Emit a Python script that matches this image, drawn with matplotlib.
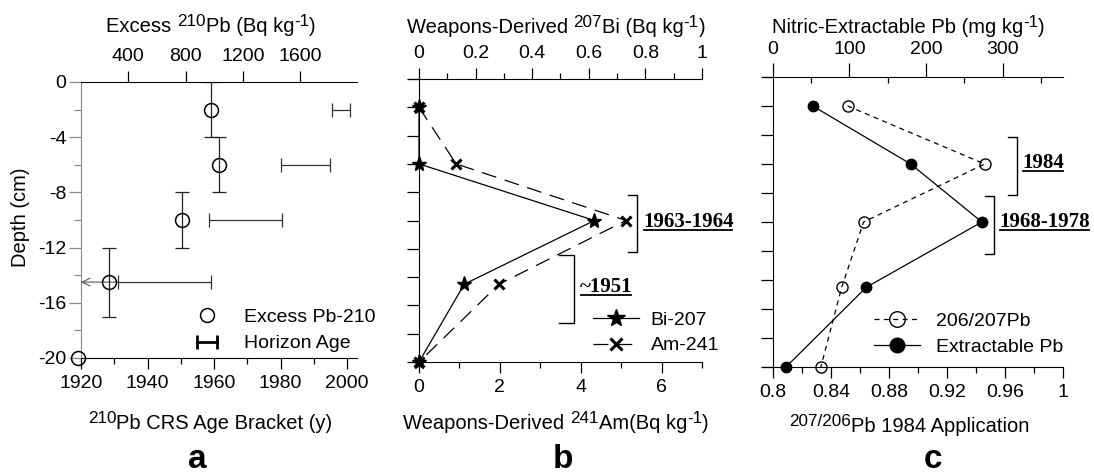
import matplotlib
matplotlib.use('Agg')
import matplotlib.pyplot as plt
from matplotlib.lines import Line2D
from matplotlib.legend_handler import HandlerLine2D
from matplotlib.font_manager import FontProperties
from matplotlib.ticker import MultipleLocator, FixedLocator

plt.rcParams['font.family'] = ['Liberation Sans', 'DejaVu Sans']
plt.rcParams['font.size'] = 14
plt.rcParams['axes.unicode_minus'] = False

######################################################################

# DATA

# panel a : excess 210Pb profile and CRS horizon ages
depth_a = [-2, -6, -10, -14.5, -20]
excess_pb210 = [980, 1035, 775, 265, 50]
depth_err_a = [2, 2, 2, 2.5]
age_depth = [-2, -6, -10, -14.5]
age_lo = [1995.5, 1980, 1958.5, 1931]
age_hi = [2001, 1995, 1980.5, 1959]
age_limit = 1920          # oldest bracket is open ended (arrow)

# panel b : weapons fallout isotopes
depth_b = [-2, -6, -10, -14.5, -20]
bi207 = [0, 0, 0.62, 0.16, 0]
am241 = [0, 0.92, 5.12, 1.98, 0]

# panel c : nitric extractable Pb and isotope ratio
depth_c = [-2, -6, -10, -14.5, -20]
extract_pb = [52, 180, 273, 122, 17]
ratio_pb = [0.8515, 0.946, 0.8625, 0.8474, 0.833]

######################################################################

W, H = 1094, 475
fig = plt.figure(figsize=(W / 100, H / 100), dpi=100)
renderer = fig.canvas.get_renderer()
LABEL_FS = 14.5


def px_axes(left, top, right, bottom):
    return fig.add_axes([left / W, 1 - bottom / H, (right - left) / W, (bottom - top) / H])


def setup(ax, top_ax, ylen=9):
    ax.spines['top'].set_visible(False)
    ax.spines['right'].set_visible(False)
    for s in ['bottom', 'left', 'right']:
        top_ax.spines[s].set_visible(False)
    ax.tick_params(axis='x', which='major', direction='out', length=8, width=0.9, pad=4)
    ax.tick_params(axis='x', which='minor', direction='out', length=4, width=0.9)
    ax.tick_params(axis='y', which='both', direction='out', length=ylen, width=0.9, pad=1.5)
    top_ax.tick_params(axis='x', which='major', direction='out', length=8, width=0.9, pad=4)
    top_ax.tick_params(axis='x', which='minor', direction='out', length=4, width=0.9)
    ax.set_ylim(-20, 0)
    ax.yaxis.set_major_locator(MultipleLocator(2))


def text_width(s, size):
    # advance width incl. spaces, measured against a sentinel glyph
    prop = FontProperties(family=['Liberation Sans', 'DejaVu Sans'], size=size)
    w1 = renderer.get_text_width_height_descent(s + '|', prop, ismath=False)[0]
    w0 = renderer.get_text_width_height_descent('|', prop, ismath=False)[0]
    return w1 - w0


def rich_label(xc, ybase, parts, fs=LABEL_FS):
    # parts: (text, superscript?) ; superscripts are nearly full size, as in the original
    sizes = [fs * 0.85 if sup else fs for _, sup in parts]
    widths = [text_width(s, sz) for (s, _), sz in zip(parts, sizes)]
    x = xc - sum(widths) / 2
    for (s, sup), sz, w in zip(parts, sizes, widths):
        yb = ybase - (0.30 * fs * 100 / 72 if sup else 0)
        fig.text(x / W, 1 - yb / H, s, fontsize=sz, ha='left', va='baseline')
        x += w


underlines = []


def bracket(ax, x, xl, y0, y1, label, tx, ty):
    ax.plot([xl, x, x, xl], [y0, y0, y1, y1], color='k', lw=1, clip_on=False)
    t = ax.text(tx, ty, label, family=['Liberation Serif', 'DejaVu Serif'], weight='bold',
                fontsize=15, ha='left', va='center', clip_on=False)
    underlines.append(t)


# ---------------- panel a ----------------
axa = px_axes(81, 82, 357, 358)
axa_t = axa.twiny()
setup(axa, axa_t)
axa.set_xlim(1920, 2003)
axa.xaxis.set_major_locator(MultipleLocator(20))
axa.xaxis.set_minor_locator(MultipleLocator(10))
axa.yaxis.set_major_locator(FixedLocator([0, -4, -8, -12, -16, -20]))
axa.yaxis.set_minor_locator(MultipleLocator(2))
axa.tick_params(axis='y', which='major', length=9, color='#888888')
axa.tick_params(axis='y', which='minor', length=5, color='#888888')
axa.spines['left'].set_color('#888888')
axa_t.set_xlim(69, 1998)
axa_t.xaxis.set_major_locator(FixedLocator([400, 800, 1200, 1600]))

# horizon age bars
centers = [(lo + hi) / 2 for lo, hi in zip(age_lo, age_hi)]
halfw = [(hi - lo) / 2 for lo, hi in zip(age_lo, age_hi)]
axa.errorbar(centers, age_depth, xerr=halfw, fmt='none', ecolor='#333333',
             elinewidth=0.9, capsize=5, capthick=0.9, clip_on=False)
axa.annotate('', xy=(age_limit, age_depth[-1]), xytext=(age_lo[-1], age_depth[-1]),
             arrowprops=dict(arrowstyle='->', lw=0.8, color='#555555',
                             shrinkA=0, shrinkB=0, mutation_scale=14))
# excess 210Pb
axa_t.errorbar(excess_pb210[:4], depth_a[:4], yerr=depth_err_a, fmt='none',
               ecolor='#222222', elinewidth=0.9, capsize=5, capthick=0.9)
pb_line, = axa_t.plot(excess_pb210, depth_a, 'o', ms=10, mfc='none', mec='k',
                      mew=1.1, clip_on=False, zorder=5)
age_proxy = Line2D([0, 1], [0, 0], color='k', lw=2, marker='|', ms=10, mew=2)
axa_t.legend([pb_line, age_proxy], ['Excess Pb-210', 'Horizon Age'],
             handler_map={age_proxy: HandlerLine2D(numpoints=2)},
             loc='lower left', bbox_to_anchor=(174 / W, 1 - 370 / H),
             bbox_transform=fig.transFigure, frameon=False, fontsize=14,
             handlelength=1.6, handletextpad=1.1, labelspacing=0.45)

fig.text(21 / W, 1 - 217 / H, 'Depth (cm)', fontsize=LABEL_FS, rotation=90,
         ha='center', va='center')
rich_label(211, 32, [('Excess ', False), ('210', True), ('Pb (Bq kg', False),
                     ('-1', True), (')', False)])
rich_label(210, 429, [('210', True), ('Pb CRS Age Bracket (y)', False)])

# ---------------- panel b ----------------
axb = px_axes(410, 79, 702, 362)
axb_t = axb.twiny()
setup(axb, axb_t)
axb.set_xlim(-0.2226, 7)
axb.spines['left'].set_position(('data', 0))
axb.xaxis.set_major_locator(FixedLocator([0, 2, 4, 6]))
axb.xaxis.set_minor_locator(FixedLocator([1, 3, 5, 7]))
axb.set_yticklabels([])
axb_t.set_xlim(-0.0318, 1)
axb_t.xaxis.set_major_locator(FixedLocator([0, 0.2, 0.4, 0.6, 0.8, 1]))
axb_t.xaxis.set_minor_locator(FixedLocator([0.1, 0.3, 0.5, 0.7, 0.9]))
axb_t.set_xticklabels(['0', '0.2', '0.4', '0.6', '0.8', '1'])

am_line, = axb.plot(am241, depth_b, color='k', lw=0.9, ls=(0, (12, 7)), marker='x',
                    ms=7, mew=2.2, clip_on=False, zorder=4)
bi_line, = axb_t.plot(bi207, depth_b, color='k', lw=0.9, marker='*', ms=11,
                      clip_on=False, zorder=5)
axb_t.legend([bi_line, am_line], ['Bi-207', 'Am-241'], loc='lower left',
             bbox_to_anchor=(575 / W, 1 - 372 / H), bbox_transform=fig.transFigure,
             frameon=False, fontsize=14, handlelength=2.4, handletextpad=0.6,
             labelspacing=0.4, markerscale=1.2)
bracket(axb, 5.39, 5.17, -8.2, -12.2, '1963-1964', 5.54, -10.1)
bracket(axb, 3.83, 3.46, -12.44, -17.24, '~1951', 3.98, -14.7)

rich_label(556, 33, [('Weapons-Derived ', False), ('207', True), ('Bi (Bq kg', False),
                     ('-1', True), (')', False)])
rich_label(556, 429, [('Weapons-Derived ', False), ('241', True), ('Am(Bq kg', False),
                      ('-1', True), (')', False)])

# ---------------- panel c ----------------
axc = px_axes(763, 77, 1063, 367)
axc_t = axc.twiny()
setup(axc, axc_t)
axc.set_xlim(0.79313, 1.0)
axc.spines['left'].set_position(('data', 0.8))
axc.xaxis.set_major_locator(FixedLocator([0.8, 0.84, 0.88, 0.92, 0.96, 1.0]))
axc.xaxis.set_minor_locator(FixedLocator([0.82, 0.86, 0.90, 0.94, 0.98]))
axc.set_xticklabels(['0.8', '0.84', '0.88', '0.92', '0.96', '1'])
axc.set_yticklabels([])
axc_t.set_xlim(-13, 379)
axc_t.xaxis.set_major_locator(FixedLocator([0, 100, 200, 300]))
axc_t.xaxis.set_minor_locator(FixedLocator([50, 150, 250, 350]))
axc_t.tick_params(axis='x', which='major', length=10)
axc_t.tick_params(axis='x', which='minor', direction='in', length=4)

ratio_line, = axc.plot(ratio_pb, depth_c, color='k', lw=0.9, ls=(0, (4, 3.5)), marker='o',
                       ms=8, mfc='none', mec='k', mew=1.0, clip_on=False, zorder=4)
ext_line, = axc_t.plot(extract_pb, depth_c, color='k', lw=0.9, marker='o', ms=7.5,
                       clip_on=False, zorder=5)
axc_t.legend([ratio_line, ext_line], ['206/207Pb', 'Extractable Pb'], loc='lower left',
             bbox_to_anchor=(856 / W, 1 - 373 / H), bbox_transform=fig.transFigure,
             frameon=False, fontsize=14, handlelength=2.4, handletextpad=0.8,
             labelspacing=0.4, markerscale=1.4)
bracket(axc, 0.9683, 0.9621, -4.14, -8.14, '1984', 0.9718, -5.93)
bracket(axc, 0.9525, 0.9463, -8.2, -12.2, '1968-1978', 0.956, -10.0)

rich_label(908, 33, [('Nitric-Extractable Pb (mg kg', False), ('-1', True), (')', False)])
rich_label(909, 432, [('207/206', True), ('Pb 1984 Application', False)])

# panel letters
for lab, xc in [('a', 197), ('b', 563), ('c', 933)]:
    fig.text(xc / W, 1 - 460 / H, lab, fontsize=24, weight='bold', ha='center', va='center')

# underline the bold date labels
fig.canvas.draw()
renderer = fig.canvas.get_renderer()
inv = fig.transFigure.inverted()
for t in underlines:
    bb = t.get_window_extent(renderer)
    yline = bb.y0 + 0.12 * bb.height
    (x0, y0), (x1, _) = inv.transform([(bb.x0 + 1, yline), (bb.x1 - 1, yline)])
    fig.add_artist(Line2D([x0, x1], [y0, y0], color='k', lw=1.3, transform=fig.transFigure))

plt.savefig('out.png', dpi=100)
